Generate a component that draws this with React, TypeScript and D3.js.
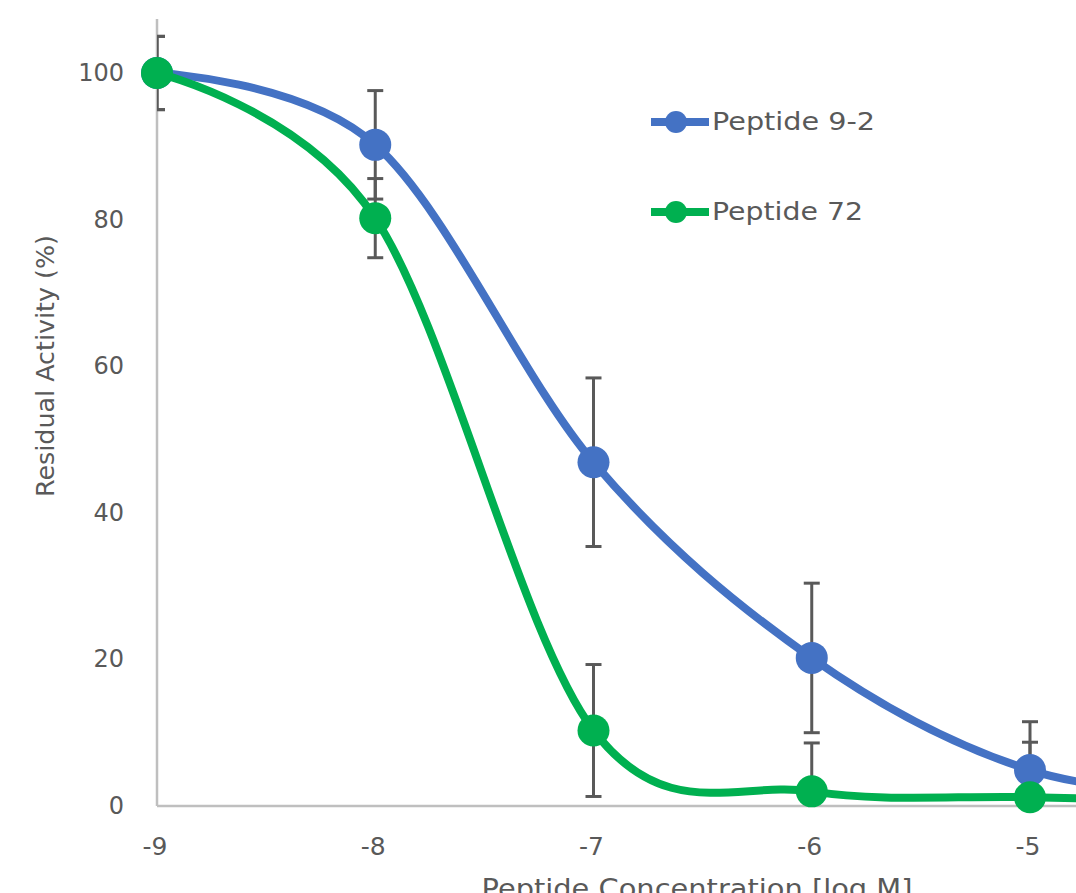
import * as d3 from 'd3';

// concentrations (log M)
const concentrations = [-9, -8, -7, -6, -5, -4];
const xTicks = [-9, -8, -7, -6, -5];
const yTicks = [0, 20, 40, 60, 80, 100];

// Peptide 9-2
const pep92 = [100, 90.2, 46.9, 20.2, 4.9, 1.0];
const pep92Err = [5, 7.4, 11.5, 10.2, 6.6, 0];
// Peptide 72
const pep72 = [100, 80.2, 10.3, 2.0, 1.2, 0.5];
const pep72Err = [5, 5.4, 9, 6.6, 7.5, 0];

const series = [
  { name: 'Peptide 9-2', values: pep92, err: pep92Err, color: '#4472C4' },
  { name: 'Peptide 72', values: pep72, err: pep72Err, color: '#00B050' },
];

const W = 1076;
const H = 893;
const textColor = '#595959';
const font = 'DejaVu Sans';

export default function App() {
  const x = d3.scaleLinear().domain([-9, -5]).range([157, 1030]);
  const y = d3.scaleLinear().domain([0, 100]).range([806, 73]);

  const line = d3
    .line<number>()
    .x((_, i) => x(concentrations[i]))
    .y((d) => y(d))
    .curve(d3.curveCardinal.tension(0));

  return (
    <svg
      width={W}
      height={H}
      style={{ position: 'absolute', left: 0, top: 0, background: '#fff' }}
    >
      <defs>
        <clipPath id="plot">
          <rect x={x(-9)} y={0} width={W - x(-9)} height={y(0)} />
        </clipPath>
      </defs>

      {/* axes */}
      <line x1={x(-9)} x2={x(-9)} y1={19} y2={y(0)} stroke="#bfbfbf" strokeWidth={2.5} />
      <line x1={x(-9)} x2={W} y1={y(0)} y2={y(0)} stroke="#bfbfbf" strokeWidth={2.5} />

      {yTicks.map((t) => (
        <text
          key={'y' + t}
          x={124}
          y={y(t) + 8}
          textAnchor="end"
          fontFamily={font}
          fontSize={24}
          fill={textColor}
        >
          {t}
        </text>
      ))}
      {xTicks.map((t) => (
        <text
          key={'x' + t}
          x={x(t) - 2}
          y={855}
          textAnchor="middle"
          fontFamily={font}
          fontSize={25}
          fill={textColor}
        >
          {t}
        </text>
      ))}

      <text
        transform={`translate(54,366) rotate(-90)`}
        textAnchor="middle"
        fontFamily={font}
        fontSize={24}
        fill={textColor}
        textLength={262}
        lengthAdjust="spacingAndGlyphs"
      >
        Residual Activity (%)
      </text>
      <text
        x={697}
        y={898}
        textAnchor="middle"
        fontFamily={font}
        fontSize={27}
        fill={textColor}
        textLength={431}
        lengthAdjust="spacingAndGlyphs"
      >
        Peptide Concentration [log M]
      </text>

      {/* error bars */}
      <g clipPath="url(#plot)" stroke={textColor} strokeWidth={3}>
        {series.map((s) =>
          s.values.map((v, i) =>
            s.err[i] > 0 ? (
              <g key={s.name + i}>
                <line x1={x(concentrations[i])} x2={x(concentrations[i])} y1={y(v + s.err[i])} y2={y(v - s.err[i])} />
                <line x1={x(concentrations[i]) - 8} x2={x(concentrations[i]) + 8} y1={y(v + s.err[i])} y2={y(v + s.err[i])} />
                <line x1={x(concentrations[i]) - 8} x2={x(concentrations[i]) + 8} y1={y(v - s.err[i])} y2={y(v - s.err[i])} />
              </g>
            ) : null
          )
        )}
      </g>

      {/* series */}
      {series.map((s) => (
        <g key={s.name}>
          <path d={line(s.values) ?? ''} fill="none" stroke={s.color} strokeWidth={8} />
          {s.values.map((v, i) => (
            <circle key={i} cx={x(concentrations[i])} cy={y(v)} r={16} fill={s.color} />
          ))}
        </g>
      ))}

      {/* legend */}
      {series.map((s, i) => (
        <g key={'leg' + s.name} transform={`translate(0,${122 + i * 90})`}>
          <line x1={651} x2={709} y1={0} y2={0} stroke={s.color} strokeWidth={8} />
          <circle cx={676} cy={0} r={11} fill={s.color} />
          <text
            x={712}
            y={8}
            fontFamily={font}
            fontSize={25}
            fill={textColor}
            textLength={i === 0 ? 163 : 151}
            lengthAdjust="spacingAndGlyphs"
          >
            {s.name}
          </text>
        </g>
      ))}
    </svg>
  );
}
